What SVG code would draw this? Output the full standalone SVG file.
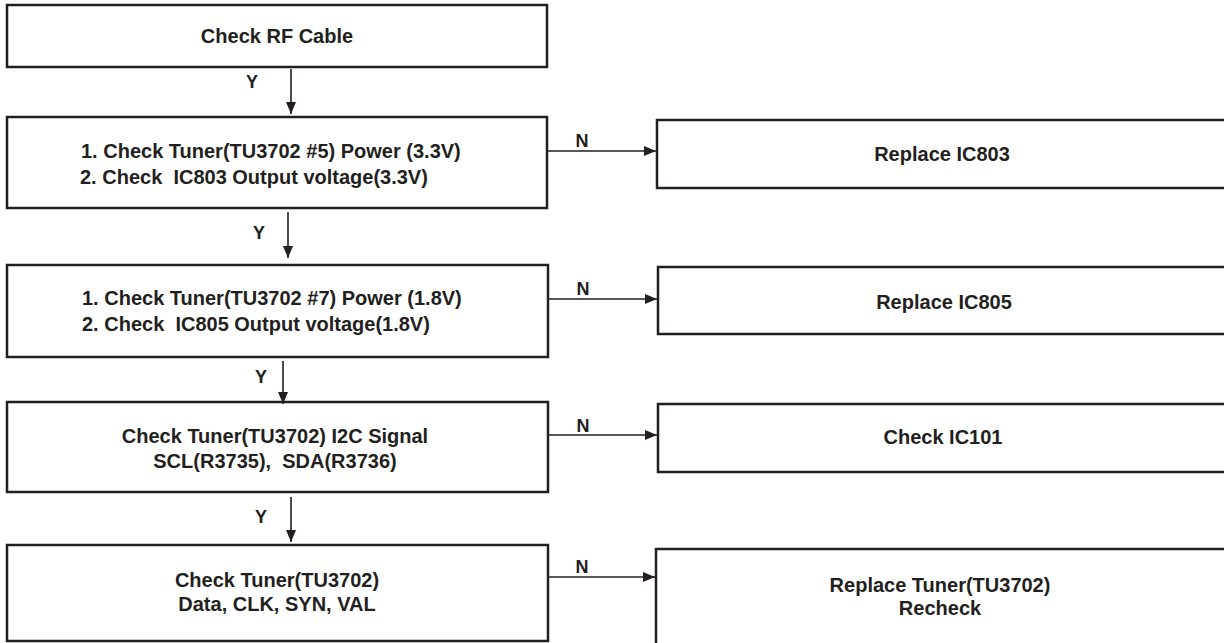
<svg xmlns="http://www.w3.org/2000/svg" width="1224" height="643" viewBox="0 0 1224 643">
  <style>
    .box { fill: #ffffff; stroke: #231f20; stroke-width: 2.5; }
    .t { font-family: "Liberation Sans", Arial, sans-serif; font-weight: bold; font-size: 20px; fill: #231f20; }
    .c { text-anchor: middle; }
    .lbl { font-family: "Liberation Sans", Arial, sans-serif; font-weight: bold; font-size: 18px; fill: #231f20; text-anchor: middle; }
    .conn { stroke: #231f20; stroke-width: 1.6; fill: none; marker-end: url(#arr); }
  </style>
  <defs>
    <marker id="arr" viewBox="0 0 12 10" refX="12" refY="5" markerWidth="12" markerHeight="10" markerUnits="userSpaceOnUse" orient="auto">
      <path d="M0,0 L12,5 L0,10 Z" fill="#231f20"/>
    </marker>
  </defs>
  <rect width="1224" height="643" fill="#ffffff"/>

  <g id="n1">
    <rect class="box" x="7" y="5" width="540" height="62"/>
    <text class="t c" x="277" y="43">Check RF Cable</text>
  </g>
  <g id="n2">
    <rect class="box" x="7" y="117" width="540" height="91"/>
    <text class="t" x="81" y="158">1. Check Tuner(TU3702 #5) Power (3.3V)</text>
    <text class="t" x="80" y="184" xml:space="preserve">2. Check  IC803 Output voltage(3.3V)</text>
  </g>
  <g id="n3">
    <rect class="box" x="657" y="120" width="580" height="68"/>
    <text class="t c" x="942" y="161">Replace IC803</text>
  </g>
  <g id="n4">
    <rect class="box" x="7" y="265" width="541" height="92"/>
    <text class="t" x="82" y="305">1. Check Tuner(TU3702 #7) Power (1.8V)</text>
    <text class="t" x="82" y="331" xml:space="preserve">2. Check  IC805 Output voltage(1.8V)</text>
  </g>
  <g id="n5">
    <rect class="box" x="658" y="267" width="580" height="67"/>
    <text class="t c" x="944" y="309">Replace IC805</text>
  </g>
  <g id="n6">
    <rect class="box" x="7" y="402" width="541" height="90"/>
    <text class="t c" x="275" y="443">Check Tuner(TU3702) I2C Signal</text>
    <text class="t c" x="275" y="468" xml:space="preserve">SCL(R3735),  SDA(R3736)</text>
  </g>
  <g id="n7">
    <rect class="box" x="658" y="404" width="580" height="68"/>
    <text class="t c" x="943" y="444">Check IC101</text>
  </g>
  <g id="n8">
    <rect class="box" x="7" y="545" width="541" height="96"/>
    <text class="t c" x="277" y="587">Check Tuner(TU3702)</text>
    <text class="t c" x="277" y="611">Data, CLK, SYN, VAL</text>
  </g>
  <g id="n9">
    <rect class="box" x="656" y="549" width="580" height="110"/>
    <text class="t c" x="940" y="592">Replace Tuner(TU3702)</text>
    <text class="t c" x="940" y="615">Recheck</text>
  </g>

  <g id="connectors">
    <line class="conn" x1="291" y1="69" x2="291" y2="114"/>
    <text class="lbl" x="252" y="88">Y</text>
    <line class="conn" x1="288" y1="212" x2="288" y2="258"/>
    <text class="lbl" x="259" y="239">Y</text>
    <line class="conn" x1="283" y1="361" x2="283" y2="404"/>
    <text class="lbl" x="261" y="383">Y</text>
    <line class="conn" x1="291" y1="497" x2="291" y2="542"/>
    <text class="lbl" x="261" y="523">Y</text>

    <line class="conn" x1="548" y1="151" x2="656" y2="151"/>
    <text class="lbl" x="582" y="147">N</text>
    <line class="conn" x1="549" y1="299" x2="657" y2="299"/>
    <text class="lbl" x="583" y="295">N</text>
    <line class="conn" x1="549" y1="435" x2="657" y2="435"/>
    <text class="lbl" x="583" y="432">N</text>
    <line class="conn" x1="549" y1="577" x2="655" y2="577"/>
    <text class="lbl" x="582" y="573">N</text>
  </g>
</svg>
